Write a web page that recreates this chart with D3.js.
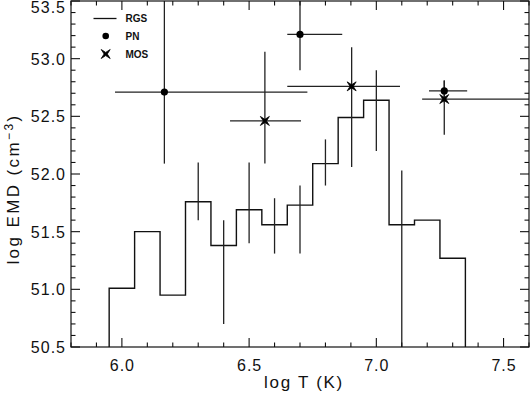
<!DOCTYPE html>
<html>
<head>
<meta charset="utf-8">
<script src="https://cdn.jsdelivr.net/npm/d3@7.9.0/dist/d3.min.js"></script>
<style>
  body { margin: 0; background: #fff; }
  svg { display: block; font-family: "Liberation Sans", Arial, sans-serif; }
  .tick-label { font-size: 16px; letter-spacing: 1px; fill: #111; }
  .axis-title { font-size: 17px; fill: #111; }
  .legend text { font-size: 10px; font-weight: bold; fill: #111; }
</style>
</head>
<body>
<svg id="chart" width="530" height="396"></svg>
<script>
// RGS differential emission measure (histogram bins of width 0.1 in log T)
const rgsT = [6.0, 6.1, 6.2, 6.3, 6.4, 6.5, 6.6, 6.7, 6.8, 6.9, 7.0, 7.1, 7.2, 7.3];
const rgsEMD = [51.01, 51.50, 50.95, 51.76, 51.38, 51.69, 51.56, 51.73, 52.09, 52.49, 52.64, 51.56, 51.60, 51.27];

// RGS error bars
const rgsErrT = [6.3, 6.4, 6.5, 6.6, 6.7, 6.8, 7.0, 7.1];
const rgsErrLo = [51.60, 50.70, 51.40, 51.31, 51.31, 51.90, 52.20, 50.30];
const rgsErrHi = [52.10, 51.60, 52.10, 51.79, 51.90, 52.30, 52.90, 52.03];

// PN points
const pnT = [6.167, 6.70, 7.267];
const pnEMD = [52.71, 53.21, 52.72];
const pnTLo = [5.973, 6.65, 7.207];
const pnTHi = [6.729, 6.866, 7.357];
const pnLo = [52.09, 52.90, 52.62];
const pnHi = [53.70, 53.70, 52.81];

// MOS points
const mosT = [6.562, 6.903, 7.267];
const mosEMD = [52.46, 52.76, 52.65];
const mosTLo = [6.425, 6.65, 7.18];
const mosTHi = [6.704, 7.093, 7.70];
const mosLo = [52.09, 52.06, 52.34];
const mosHi = [53.06, 53.10, 52.81];

const xTicks = [6.0, 6.5, 7.0, 7.5];
const yTicks = [50.5, 51.0, 51.5, 52.0, 52.5, 53.0, 53.5];

const svg = d3.select('#chart');
const pl = 71, pr = 529, pt = 1, pb = 347;

const x = d3.scaleLinear().domain([5.8, 7.6]).range([pl, pr]);
const y = d3.scaleLinear().domain([50.5, 53.5]).range([pb, pt]);

svg.append('defs').append('clipPath').attr('id', 'clip')
  .append('rect').attr('x', pl).attr('y', pt).attr('width', pr - pl).attr('height', pb - pt);

const plot = svg.append('g').attr('clip-path', 'url(#clip)');

// histogram step line
const half = 0.05;
const steps = [[rgsT[0] - half, 50.3]];
rgsT.forEach((t, i) => {
  steps.push([t - half, rgsEMD[i]]);
  steps.push([t + half, rgsEMD[i]]);
});
steps.push([rgsT[rgsT.length - 1] + half, 50.3]);

plot.append('path')
  .attr('d', d3.line().x(d => x(d[0])).y(d => y(d[1]))(steps))
  .attr('fill', 'none').attr('stroke', '#111').attr('stroke-width', 1.4);

const barStroke = '#222';
rgsErrT.forEach((t, i) => {
  plot.append('line')
    .attr('x1', x(t)).attr('x2', x(t))
    .attr('y1', y(rgsErrLo[i])).attr('y2', y(rgsErrHi[i]))
    .attr('stroke', barStroke).attr('stroke-width', 1.3);
});

function crosses(ts, vs, tlo, thi, lo, hi) {
  ts.forEach((t, i) => {
    plot.append('line')
      .attr('x1', x(tlo[i])).attr('x2', x(thi[i]))
      .attr('y1', y(vs[i])).attr('y2', y(vs[i]))
      .attr('stroke', barStroke).attr('stroke-width', 1.3);
    plot.append('line')
      .attr('x1', x(t)).attr('x2', x(t))
      .attr('y1', y(lo[i])).attr('y2', y(hi[i]))
      .attr('stroke', barStroke).attr('stroke-width', 1.3);
  });
}
crosses(pnT, pnEMD, pnTLo, pnTHi, pnLo, pnHi);
crosses(mosT, mosEMD, mosTLo, mosTHi, mosLo, mosHi);

const starPath = 'M-4.5,-4.5L0,-1.6L4.5,-4.5L1.6,0L4.5,4.5L0,1.6L-4.5,4.5L-1.6,0Z';

pnT.forEach((t, i) => {
  plot.append('circle').attr('cx', x(t)).attr('cy', y(pnEMD[i])).attr('r', 3.6).attr('fill', '#000');
});
mosT.forEach((t, i) => {
  plot.append('path').attr('d', starPath)
    .attr('transform', `translate(${x(t)},${y(mosEMD[i])})`)
    .attr('fill', '#000').attr('stroke', '#000').attr('stroke-width', 0.8);
});

// frame
svg.append('rect')
  .attr('x', pl).attr('y', pt).attr('width', pr - pl).attr('height', pb - pt)
  .attr('fill', 'none').attr('stroke', '#111').attr('stroke-width', 1.2);

// ticks on all four sides, pointing inwards
const xMinor = d3.range(5.8, 7.601, 0.1).map(v => +v.toFixed(1));
const yMinor = d3.range(50.5, 53.501, 0.1).map(v => +v.toFixed(1));
const isMajorX = v => xTicks.some(t => Math.abs(t - v) < 1e-6);
const isMajorY = v => yTicks.some(t => Math.abs(t - v) < 1e-6);

const tickG = svg.append('g').attr('stroke', '#111').attr('stroke-width', 1.1);
xMinor.forEach(v => {
  const len = isMajorX(v) ? 9 : 4.5;
  tickG.append('line').attr('x1', x(v)).attr('x2', x(v)).attr('y1', pb).attr('y2', pb - len);
  tickG.append('line').attr('x1', x(v)).attr('x2', x(v)).attr('y1', pt).attr('y2', pt + len);
});
yMinor.forEach(v => {
  const len = isMajorY(v) ? 9 : 4.5;
  tickG.append('line').attr('x1', pl).attr('x2', pl + len).attr('y1', y(v)).attr('y2', y(v));
  tickG.append('line').attr('x1', pr).attr('x2', pr - len).attr('y1', y(v)).attr('y2', y(v));
});

xTicks.forEach(v => {
  svg.append('text').attr('class', 'tick-label')
    .attr('x', x(v) + 0.5).attr('y', pb + 24).attr('text-anchor', 'middle')
    .text(v.toFixed(1));
});
yTicks.forEach(v => {
  // keep the top label inside the picture
  const ty = Math.max(y(v) + 6, 13);
  svg.append('text').attr('class', 'tick-label')
    .attr('x', pl - 5).attr('y', ty).attr('text-anchor', 'end')
    .text(v.toFixed(1));
});

// axis titles
svg.append('text').attr('class', 'axis-title')
  .attr('x', 304).attr('y', 388).attr('text-anchor', 'middle')
  .attr('letter-spacing', 1.7)
  .text('log T (K)');

const yl = svg.append('text').attr('class', 'axis-title')
  .attr('transform', 'translate(19,189) rotate(-90)')
  .attr('text-anchor', 'middle')
  .attr('letter-spacing', 2.4);
yl.append('tspan').text('log EMD (cm');
yl.append('tspan').attr('dy', -6).attr('font-size', 12).text('−3');
yl.append('tspan').attr('dy', 6).text(')');

// legend
const legend = svg.append('g').attr('class', 'legend');
legend.append('line').attr('x1', 93.5).attr('x2', 116.5).attr('y1', 18.5).attr('y2', 18.5)
  .attr('stroke', '#111').attr('stroke-width', 1.3);
legend.append('text').attr('x', 125.5).attr('y', 22).text('RGS');
legend.append('circle').attr('cx', 105.7).attr('cy', 36).attr('r', 3.3).attr('fill', '#000');
legend.append('text').attr('x', 125.5).attr('y', 40).text('PN');
legend.append('path').attr('d', starPath).attr('transform', 'translate(105.7,54)')
  .attr('fill', '#000').attr('stroke', '#000').attr('stroke-width', 0.8);
legend.append('text').attr('x', 125.5).attr('y', 58).text('MOS');
</script>
</body>
</html>
